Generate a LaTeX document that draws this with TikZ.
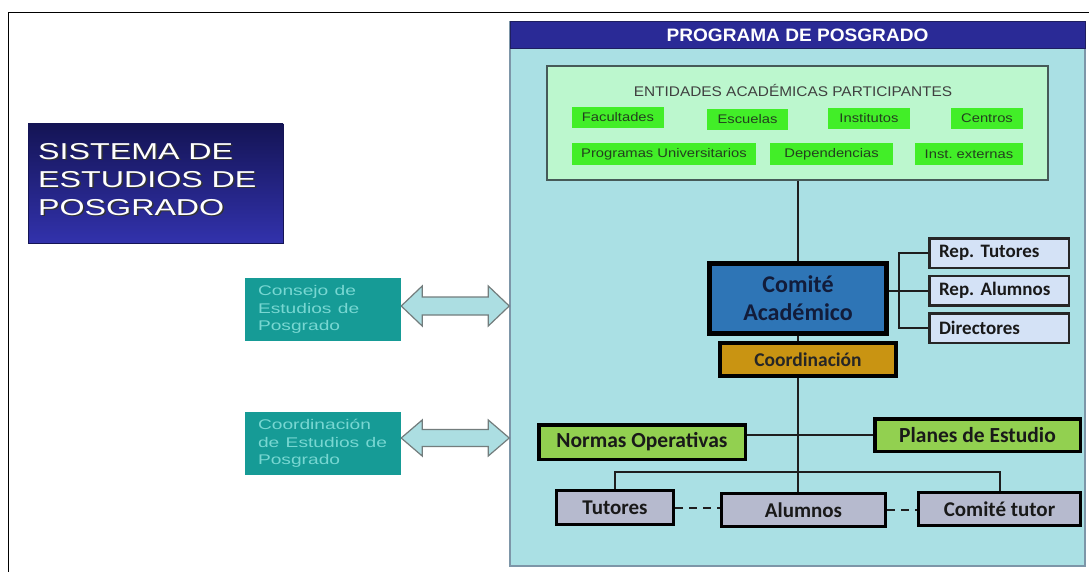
\documentclass[tikz,border=0pt]{standalone}
\usepackage{fontspec}
\setmainfont{Liberation Sans}
\newfontfamily\carl{Carlito}
\usetikzlibrary{calc}
\frenchspacing
\definecolor{hdr}{RGB}{42,42,150}
\definecolor{hdrbd}{RGB}{30,30,95}
\definecolor{cyanbg}{RGB}{170,224,228}
\definecolor{cyanbd}{RGB}{125,150,168}
\definecolor{mint}{RGB}{188,247,206}
\definecolor{mintbd}{RGB}{70,90,88}
\definecolor{btn}{RGB}{66,238,40}
\definecolor{btntxt}{RGB}{35,65,30}
\definecolor{comite}{RGB}{46,117,182}
\definecolor{comtxt}{RGB}{18,28,58}
\definecolor{gold}{RGB}{201,148,18}
\definecolor{repbl}{RGB}{212,226,246}
\definecolor{lgreen}{RGB}{146,208,80}
\definecolor{lav}{RGB}{182,186,206}
\definecolor{tealbox}{RGB}{22,155,150}
\definecolor{tealtxt}{RGB}{120,215,210}
\definecolor{arrfill}{RGB}{172,222,226}
\definecolor{arrbd}{RGB}{115,125,125}
\definecolor{navyA}{RGB}{20,20,85}
\definecolor{navyB}{RGB}{50,50,172}
\definecolor{conn}{RGB}{30,30,30}
\newcommand\sxa[2]{\scalebox{#1}[1]{#2}}
\begin{document}
\begin{tikzpicture}[x=1pt,y=-1pt,
  progbox/.style={draw=cyanbd, fill=cyanbg, line width=1.5pt, inner sep=0pt},
  hdrbox/.style={draw=hdrbd, fill=hdr, line width=1pt, inner sep=0pt, text=white,
    font=\fontsize{18}{20}\selectfont\bfseries},
  entbox/.style={draw=mintbd, fill=mint, line width=1.3pt, inner sep=0pt},
  btnbox/.style={fill=btn, inner sep=0pt, text=btntxt, font=\fontsize{12.5}{14}\selectfont},
  combox/.style={draw=black, fill=comite, line width=5pt, inner sep=0pt, text=comtxt,
    align=center, font=\carl\bfseries\fontsize{24}{28}\selectfont},
  coordbox/.style={draw=black, fill=gold, line width=4pt, inner sep=0pt, text=black!85,
    font=\carl\bfseries\fontsize{19.5}{22}\selectfont},
  repbox/.style={draw=black!85, fill=repbl, line width=2.5pt, inner ysep=0pt, inner xsep=9.75pt,
    text width=120pt, align=left, minimum width=139.5pt, minimum height=29.5pt, text=black!90,
    font=\carl\bfseries\fontsize{19}{22}\selectfont},
  greenbox/.style={draw=black, fill=lgreen, line width=3.5pt, inner sep=0pt, text=black!90,
    font=\carl\bfseries\fontsize{21.5}{24}\selectfont},
  lavbox/.style={draw=black, fill=lav, line width=3pt, inner sep=0pt, text=black!90,
    font=\carl\bfseries\fontsize{21}{24}\selectfont},
  tealnode/.style={fill=tealbox, inner ysep=0pt, inner xsep=13pt, text width=130pt, align=left,
    minimum width=156pt, minimum height=63pt, text=tealtxt, font=\fontsize{14}{17.5}\selectfont},
  link/.style={draw=conn, line width=2pt},
  dlink/.style={draw=conn, line width=2pt, dash pattern=on 8pt off 6pt},
  dblarrow/.style={draw=arrbd, fill=arrfill, line width=1.2pt, line join=miter},
  sisttext/.style={anchor=north west, inner sep=0pt, align=left,
    font=\fontsize{23}{28}\selectfont}
]
\useasboundingbox (0,0) rectangle (1089,572);
\fill[white] (0,0) rectangle (1089,572);
% outer frame
\draw[line width=1.5pt, black] (1089,12.5) -- (8.5,12.5) -- (8.5,572);

% program box and header
\node[progbox, minimum width=575pt, minimum height=544pt] (prog) at (797.5,294) {};
\node[hdrbox, minimum width=575pt, minimum height=27pt, anchor=north] (hdr) at (prog.north)
  {\sxa{1.06}{PROGRAMA DE POSGRADO}};

% entidades
\node[entbox, minimum width=501pt, minimum height=114pt] (ent) at (797.5,123) {};
\node[inner sep=0pt, text=black!75, font=\fontsize{14}{16}\selectfont] (entt) at (793,90)
  {\sxa{1.1}{ENTIDADES ACADÉMICAS PARTICIPANTES}};
\node[btnbox, minimum width=92pt, minimum height=21pt] (fac) at (618,117.5) {\sxa{1.18}{Facultades}};
\node[btnbox, minimum width=81pt, minimum height=21pt] (esc) at (747.5,119.5) {\sxa{1.18}{Escuelas}};
\node[btnbox, minimum width=82pt, minimum height=21pt] (ins) at (869,118.5) {\sxa{1.18}{Institutos}};
\node[btnbox, minimum width=72pt, minimum height=21pt] (cen) at (987,118.5) {\sxa{1.18}{Centros}};
\node[btnbox, minimum width=184pt, minimum height=22pt] (pu) at (664,154) {\sxa{1.18}{Programas Universitarios}};
\node[btnbox, minimum width=123pt, minimum height=22pt] (dep) at (831.5,154) {\sxa{1.18}{Dependencias}};
\node[btnbox, minimum width=108pt, minimum height=22pt] (iex) at (969,154) {\sxa{1.18}{Inst. externas}};

% comite academico and coordinacion
\node[combox, minimum width=177pt, minimum height=70pt] (com) at (798,298.5) {Comité\\Académico};
\node[coordbox, minimum width=176pt, minimum height=33pt] (coo) at (808,359.5) {Coordinación};

% rep boxes
\node[repbox] (repT) at (999,253) {Rep. Tutores};
\node[repbox] (repA) at (999,290.5) {Rep. Alumnos};
\node[repbox] (repD) at (999,328) {Directores};

% normas / planes
\node[greenbox, minimum width=206.5pt, minimum height=34.5pt] (nor) at (642,442) {Normas Operativas};
\node[greenbox, minimum width=205.5pt, minimum height=32.5pt] (pla) at (977.5,435) {Planes de Estudio};

% tutores / alumnos / comite tutor
\node[lavbox, minimum width=117pt, minimum height=34pt] (tut) at (615,507.5) {Tutores};
\node[lavbox, minimum width=164pt, minimum height=33pt] (alu) at (803.5,510) {Alumnos};
\node[lavbox, minimum width=162pt, minimum height=33pt] (ctu) at (999.5,509) {Comité tutor};

% connectors
\coordinate (brk) at (899,290);
\coordinate (bus) at (0,472);
\draw[link] (ent.south) -- (ent.south |- com.north);
\draw[link] (ent.south |- com.south) -- (ent.south |- coo.north);
\draw[link] (ent.south |- coo.south) -- (ent.south |- alu.north);
\draw[link] (repA.west) -- (repA.west -| com.east);
\draw[link] (repT.west) -- (repT.west -| brk) -- (repD.west -| brk) -- (repD.west);
\draw[link] (pla.west) -- (pla.west -| nor.east);
\draw[link] (tut.north) -- (tut.north |- bus) -- (ctu.north |- bus) -- (ctu.north);
\draw[dlink] (tut.east) -- (tut.east -| alu.west);
\draw[dlink] (alu.east) -- (alu.east -| ctu.west);

% left side: sistema
\node[top color=navyA, bottom color=navyB, draw=navyA, line width=0.8pt,
  minimum width=255pt, minimum height=119pt, inner sep=0pt] (sist) at (155.5,183.5) {};
\node[sisttext, text=black!80] (sistsh) at (39.5,144.5)
  {\sxa{1.4}{SISTEMA DE}\\\sxa{1.4}{ESTUDIOS DE}\\\sxa{1.4}{POSGRADO}};
\node[sisttext, text=white] (sistt) at (38,143)
  {\sxa{1.4}{SISTEMA DE}\\\sxa{1.4}{ESTUDIOS DE}\\\sxa{1.4}{POSGRADO}};

% teal boxes
\node[tealnode] (cons) at (323,309.5)
  {\sxa{1.37}{Consejo de}\\\sxa{1.37}{Estudios de}\\\sxa{1.37}{Posgrado}};
\node[tealnode] (ces) at (323,443.5)
  {\sxa{1.37}{Coordinación}\\\sxa{1.37}{de Estudios de}\\\sxa{1.37}{Posgrado}};

% double arrows
\draw[dblarrow] let \p1=($(cons.east)+(0,-3.5)$), \p2=($(cons.east -| prog.west)+(0,-3.5)$) in
  (\x1,\y1) -- (\x1+21pt,\y1+20pt) -- (\x1+21pt,\y1+9pt) -- (\x2-21pt,\y1+9pt)
  -- (\x2-21pt,\y1+20pt) -- (\x2,\y1) -- (\x2-21pt,\y1-20pt) -- (\x2-21pt,\y1-9pt)
  -- (\x1+21pt,\y1-9pt) -- (\x1+21pt,\y1-20pt) -- cycle;
\draw[dblarrow] let \p1=($(ces.east)+(0,-5.5)$), \p2=($(ces.east -| prog.west)+(0,-5.5)$) in
  (\x1,\y1) -- (\x1+21pt,\y1+18pt) -- (\x1+21pt,\y1+8.5pt) -- (\x2-21pt,\y1+8.5pt)
  -- (\x2-21pt,\y1+18pt) -- (\x2,\y1) -- (\x2-21pt,\y1-18pt) -- (\x2-21pt,\y1-8.5pt)
  -- (\x1+21pt,\y1-8.5pt) -- (\x1+21pt,\y1-18pt) -- cycle;
\end{tikzpicture}
\end{document}
